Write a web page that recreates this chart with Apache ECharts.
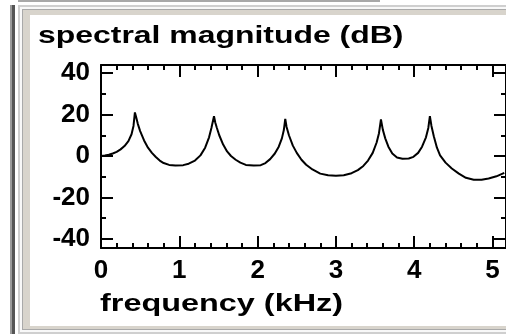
<!DOCTYPE html>
<html><head><meta charset="utf-8">
<script src="https://cdn.jsdelivr.net/npm/echarts@6/dist/echarts.min.js"></script>
<style>html,body{margin:0;padding:0;background:#fff}#c{width:506px;height:334px}</style>
</head><body><div id="c"></div>
<script>
// Data
var freq = [0.00,0.05,0.10,0.15,0.20,0.25,0.30,0.35,0.39,0.415,0.433,
            0.45,0.47,0.50,0.55,0.60,0.65,0.70,0.75,0.80,0.87,0.95,1.05,1.12,1.20,1.27,1.33,1.38,1.41,1.443,
            1.46,1.48,1.51,1.56,1.61,1.66,1.72,1.78,1.85,1.95,2.04,2.10,2.16,2.22,2.27,2.31,2.335,2.353,
            2.37,2.40,2.45,2.50,2.56,2.62,2.70,2.80,2.90,3.00,3.10,3.20,3.28,3.35,3.41,3.47,3.52,3.55,3.575,
            3.60,3.63,3.67,3.72,3.78,3.85,3.93,3.99,4.05,4.10,4.15,4.18,4.20,
            4.22,4.25,4.29,4.33,4.40,4.48,4.57,4.66,4.76,4.86,4.95,5.05,5.15];
var mag  = [0.0,0.2,0.6,1.2,2.0,3.2,4.8,7.2,10.5,14.5,21.0,
            18.5,15.5,12.0,7.5,4.0,1.5,-0.5,-2.2,-3.4,-4.3,-4.6,-4.4,-3.7,-2.2,0.3,4.0,9.0,13.5,19.2,
            16.0,13.5,10.0,5.5,2.2,0.0,-1.8,-3.2,-4.3,-4.6,-4.4,-3.4,-1.5,1.2,4.5,8.5,12.5,17.9,
            14.0,10.0,5.0,1.5,-1.8,-4.2,-6.5,-8.5,-9.3,-9.5,-9.3,-8.3,-6.8,-4.8,-2.2,1.5,6.5,11.0,17.6,
            12.5,8.5,4.5,1.2,-0.7,-1.3,-1.2,-0.4,1.5,4.5,9.0,13.5,19.2,
            14.5,9.5,4.0,0.3,-3.2,-6.0,-8.5,-10.5,-11.4,-11.4,-10.8,-9.8,-8.1];
var xMajor = [0,1,2,3,4,5];
var xMinor = [0.2,0.4,0.6,0.8,1.2,1.4,1.6,1.8,2.2,2.4,2.6,2.8,3.2,3.4,3.6,3.8,4.2,4.4,4.6,4.8,5.2];
var yMajor = [-40,-20,0,20,40];
var yMinor = [-30,-10,10,30];
var yTitle = 'spectral magnitude (dB)';
var xTitle = 'frequency (kHz)';

var X_MIN = 0, X_MAX = 5.172, Y_MIN = -44.34, Y_MAX = 43.86;
var pts = freq.map(function(f,i){return [f, mag[i]];});
var lblFont = {fontFamily:'Liberation Sans, Arial, sans-serif', fontWeight:'bold', fontSize:26, color:'#000'};
function ax(type, pos, ticks, len, labels, line){
  var a = {type:'value', position:pos, min: type==='x'?X_MIN:Y_MIN, max: type==='x'?X_MAX:Y_MAX,
    splitLine:{show:false},
    axisLine:{show:line, onZero:false, lineStyle:{color:'#000', width:2}},
    axisTick:{show:true, inside:true, length:len, customValues:ticks, lineStyle:{color:'#000', width:2}},
    axisLabel:{show:labels}
  };
  if (labels) {
    a.axisLabel = Object.assign({show:true, customValues:ticks, margin: type==='x'?10:11}, lblFont);
  }
  return a;
}
var chart = echarts.init(document.getElementById('c'), null, {renderer:'canvas'});
chart.setOption({
  animation:false,
  backgroundColor:'#fff',
  grid:{left:101, top:65, width:406, height:183, containLabel:false},
  xAxis:[ax('x','bottom',xMajor,12,true,true), ax('x','bottom',xMinor,5,false,false),
         ax('x','top',xMajor,12,false,true), ax('x','top',xMinor,5,false,false)],
  yAxis:[ax('y','left',yMajor,12,true,true), ax('y','left',yMinor,5,false,false),
         ax('y','right',yMajor,12,false,true), ax('y','right',yMinor,5,false,false)],
  series:[{type:'line', data:pts, xAxisIndex:0, yAxisIndex:0, showSymbol:false, smooth:false,
    lineStyle:{color:'#000', width:2}, clip:true}],
  graphic:[
    {type:'rect', z:-10, shape:{x:18,y:0,width:362,height:2}, style:{fill:'#a8a8a8'}},
    {type:'rect', z:-10, shape:{x:10,y:5,width:2,height:329}, style:{fill:'#9a9a9a'}},
    {type:'rect', z:-10, shape:{x:12,y:5,width:3,height:329}, style:{fill:'#555555'}},
    {type:'rect', z:-10, shape:{x:18,y:5,width:488,height:329}, style:{fill:'#cfcfcf'}},
    {type:'rect', z:-10, shape:{x:20,y:7,width:486,height:325}, style:{fill:'#f8f8f8'}},
    {type:'rect', z:-10, shape:{x:22,y:9,width:484,height:321}, style:{fill:'#a9a9a9'}},
    {type:'rect', z:-10, shape:{x:23,y:10,width:483,height:319}, style:{fill:'#d8d4cc'}},
    {type:'rect', z:-10, shape:{x:30,y:15,width:476,height:311}, style:{fill:'#ffffff'}},
    {type:'text', x:38, y:24, scaleX:1.33, scaleY:1, z:10,
      style:{text:yTitle, fontFamily:'Liberation Sans, Arial, sans-serif', fontWeight:'bold', fontSize:24, fill:'#000', verticalAlign:'top'}},
    {type:'text', x:100, y:292, scaleX:1.35, scaleY:1, z:10,
      style:{text:xTitle, fontFamily:'Liberation Sans, Arial, sans-serif', fontWeight:'bold', fontSize:24, fill:'#000', verticalAlign:'top'}}
  ]
});
</script></body></html>
